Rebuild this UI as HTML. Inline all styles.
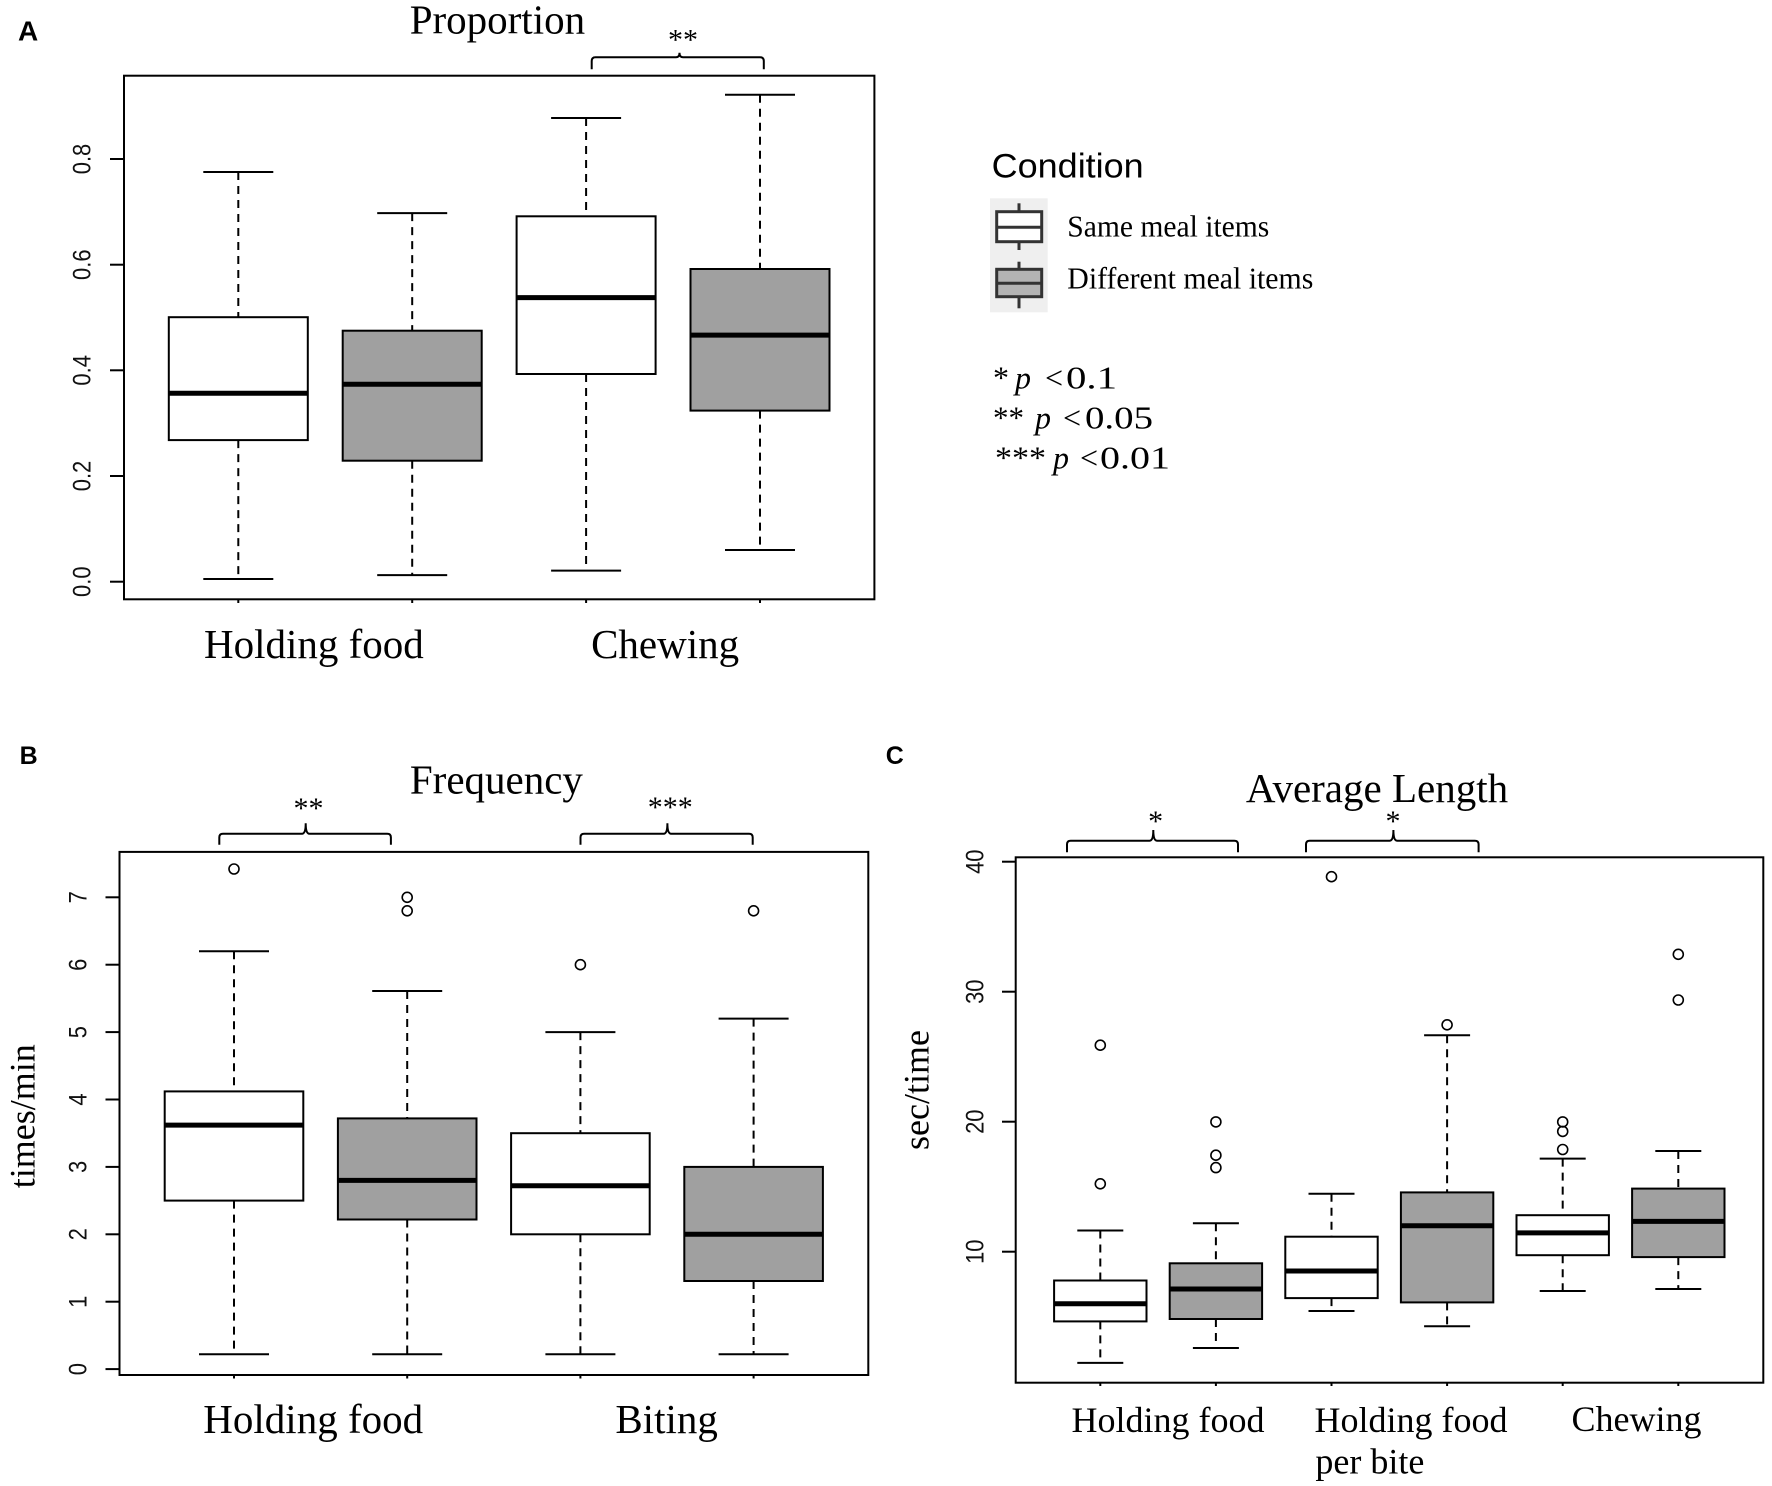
<!DOCTYPE html>
<html><head><meta charset="utf-8"><style>
html,body{margin:0;padding:0;background:#fff}
svg{display:block}
.fr{fill:none;stroke:#000;stroke-width:2}
.w{stroke:#000;stroke-width:2;stroke-dasharray:8 6}
.c{stroke:#000;stroke-width:2}
.bw{fill:#fff;stroke:#000;stroke-width:2}
.bg{fill:#a0a0a0;stroke:#000;stroke-width:2}
.m{stroke:#000;stroke-width:5}
.o{fill:none;stroke:#000;stroke-width:1.6}
.tk{stroke:#000;stroke-width:2}
.serif{font-family:"Liberation Serif","Times New Roman",serif;fill:#000}
.sans{font-family:"Liberation Sans",Arial,sans-serif;fill:#000}
.tl{font-family:"Liberation Sans",Arial,sans-serif;font-size:22px;fill:#111}
.br{fill:none;stroke:#000;stroke-width:2}
</style></head><body>
<svg width="1772" height="1486" viewBox="0 0 1772 1486" xmlns="http://www.w3.org/2000/svg">
<rect width="1772" height="1486" fill="#fff"/>

<!-- ================= PANEL A ================= -->
<text class="sans" x="18" y="40.7" font-size="28" font-weight="bold">A</text>
<text class="serif" x="497.4" y="33.5" font-size="41" text-anchor="middle">Proportion</text>
<!-- bracket -->
<path class="br" d="M591.7,69.3 L591.7,61 Q591.7,57.2 595.5,57.2 L676,57.2 Q679.5,57.2 679.5,52.7 Q679.5,57.2 683,57.2 L760,57.2 Q763.8,57.2 763.8,61 L763.8,69.3"/>
<text class="serif" x="683" y="49.5" font-size="30" text-anchor="middle">**</text>

<rect class="fr" x="124" y="75.7" width="750.4" height="523.6"/>
<!-- y ticks -->
<line class="tk" x1="110" y1="581.7" x2="124" y2="581.7"/>
<line class="tk" x1="110" y1="476" x2="124" y2="476"/>
<line class="tk" x1="110" y1="370.3" x2="124" y2="370.3"/>
<line class="tk" x1="110" y1="264.7" x2="124" y2="264.7"/>
<line class="tk" x1="110" y1="159" x2="124" y2="159"/>
<g class="tl" text-anchor="middle">
<text transform="translate(90.7,581.7) scale(1.15,1) rotate(-90)">0.0</text>
<text transform="translate(90.7,476) scale(1.15,1) rotate(-90)">0.2</text>
<text transform="translate(90.7,370.3) scale(1.15,1) rotate(-90)">0.4</text>
<text transform="translate(90.7,264.7) scale(1.15,1) rotate(-90)">0.6</text>
<text transform="translate(90.7,159) scale(1.15,1) rotate(-90)">0.8</text>
</g>
<!-- x ticks -->
<line class="tk" x1="238.3" y1="599.3" x2="238.3" y2="603"/>
<line class="tk" x1="412.2" y1="599.3" x2="412.2" y2="603"/>
<line class="tk" x1="586.1" y1="599.3" x2="586.1" y2="603"/>
<line class="tk" x1="760" y1="599.3" x2="760" y2="603"/>

<!-- Box A1 -->
<line class="w" x1="238.3" y1="172" x2="238.3" y2="317.2"/>
<line class="w" x1="238.3" y1="440.1" x2="238.3" y2="579"/>
<line class="c" x1="203.3" y1="172" x2="273.3" y2="172"/>
<line class="c" x1="203.3" y1="579" x2="273.3" y2="579"/>
<rect class="bw" x="168.8" y="317.2" width="139" height="122.9"/>
<line class="m" x1="168.8" y1="393.2" x2="307.8" y2="393.2"/>
<!-- Box A2 -->
<line class="w" x1="412.2" y1="213.1" x2="412.2" y2="330.7"/>
<line class="w" x1="412.2" y1="460.7" x2="412.2" y2="575.1"/>
<line class="c" x1="377.2" y1="213.1" x2="447.2" y2="213.1"/>
<line class="c" x1="377.2" y1="575.1" x2="447.2" y2="575.1"/>
<rect class="bg" x="342.7" y="330.7" width="139" height="130"/>
<line class="m" x1="342.7" y1="384.3" x2="481.7" y2="384.3"/>
<!-- Box A3 -->
<line class="w" x1="586.1" y1="118" x2="586.1" y2="216.3"/>
<line class="w" x1="586.1" y1="374" x2="586.1" y2="570.6"/>
<line class="c" x1="551.1" y1="118" x2="621.1" y2="118"/>
<line class="c" x1="551.1" y1="570.6" x2="621.1" y2="570.6"/>
<rect class="bw" x="516.6" y="216.3" width="139" height="157.7"/>
<line class="m" x1="516.6" y1="297.6" x2="655.6" y2="297.6"/>
<!-- Box A4 -->
<line class="w" x1="760" y1="94.7" x2="760" y2="269"/>
<line class="w" x1="760" y1="410.6" x2="760" y2="550"/>
<line class="c" x1="725" y1="94.7" x2="795" y2="94.7"/>
<line class="c" x1="725" y1="550" x2="795" y2="550"/>
<rect class="bg" x="690.5" y="269" width="139" height="141.6"/>
<line class="m" x1="690.5" y1="335.1" x2="829.5" y2="335.1"/>

<text class="serif" x="313.9" y="658" font-size="41" text-anchor="middle">Holding food</text>
<text class="serif" x="665.1" y="658" font-size="41" text-anchor="middle">Chewing</text>

<!-- ================= LEGEND ================= -->
<text class="sans" x="991.7" y="177.3" font-size="34" textLength="152" lengthAdjust="spacingAndGlyphs">Condition</text>
<rect x="990" y="198.3" width="57.7" height="114" fill="#efefef"/>
<line x1="1019" y1="203.3" x2="1019" y2="250" stroke="#333" stroke-width="3"/>
<rect x="996.7" y="211.7" width="45" height="30" fill="#fff" stroke="#333" stroke-width="3"/>
<line x1="996.7" y1="227.3" x2="1041.7" y2="227.3" stroke="#333" stroke-width="3"/>
<line x1="1019" y1="261.7" x2="1019" y2="308.3" stroke="#333" stroke-width="3"/>
<rect x="996.7" y="269.3" width="45" height="27.4" fill="#b3b3b3" stroke="#333" stroke-width="3"/>
<line x1="996.7" y1="283.3" x2="1041.7" y2="283.3" stroke="#333" stroke-width="3"/>
<text class="serif" x="1067.3" y="236.7" font-size="31" textLength="202" lengthAdjust="spacingAndGlyphs">Same meal items</text>
<text class="serif" x="1067.3" y="288.3" font-size="31" textLength="246" lengthAdjust="spacingAndGlyphs">Different meal items</text>

<g class="serif" font-size="32">
<text x="993" y="388.3">*</text>
<text x="1015" y="388.3" font-style="italic">p</text>
<text x="1045" y="388.3">&lt;</text>
<text x="1066" y="388.3" textLength="51" lengthAdjust="spacingAndGlyphs">0.1</text>

<text x="993" y="428.3" textLength="31" lengthAdjust="spacingAndGlyphs">**</text>
<text x="1035" y="428.3" font-style="italic">p</text>
<text x="1063" y="428.3">&lt;</text>
<text x="1085" y="428.3" textLength="68" lengthAdjust="spacingAndGlyphs">0.05</text>

<text x="995" y="468.3" textLength="51" lengthAdjust="spacingAndGlyphs">***</text>
<text x="1053" y="468.3" font-style="italic">p</text>
<text x="1080" y="468.3">&lt;</text>
<text x="1100" y="468.3" textLength="70" lengthAdjust="spacingAndGlyphs">0.01</text>
</g>

<!-- ================= PANEL B ================= -->
<text class="sans" x="19.6" y="764" font-size="25" font-weight="bold">B</text>
<text class="serif" x="496.4" y="793.3" font-size="41" text-anchor="middle">Frequency</text>
<path class="br" d="M219.3,844.8 L219.3,837.5 Q219.3,833.8 223,833.8 L302,833.8 Q305.7,833.8 305.7,823.3 Q305.7,833.8 309.4,833.8 L387.2,833.8 Q390.9,833.8 390.9,837.5 L390.9,844.8"/>
<text class="serif" x="308.5" y="818" font-size="30" text-anchor="middle">**</text>
<path class="br" d="M580.5,844.8 L580.5,837.5 Q580.5,833.8 584.2,833.8 L663.7,833.8 Q667.4,833.8 667.4,823.3 Q667.4,833.8 671.1,833.8 L749,833.8 Q752.7,833.8 752.7,837.5 L752.7,844.8"/>
<text class="serif" x="670.2" y="817" font-size="30" text-anchor="middle">***</text>

<rect class="fr" x="119.5" y="851.9" width="748.8" height="523.1"/>
<g>
<line class="tk" x1="105.5" y1="1369.1" x2="119.5" y2="1369.1"/>
<line class="tk" x1="105.5" y1="1301.7" x2="119.5" y2="1301.7"/>
<line class="tk" x1="105.5" y1="1234.3" x2="119.5" y2="1234.3"/>
<line class="tk" x1="105.5" y1="1166.9" x2="119.5" y2="1166.9"/>
<line class="tk" x1="105.5" y1="1099.5" x2="119.5" y2="1099.5"/>
<line class="tk" x1="105.5" y1="1032.1" x2="119.5" y2="1032.1"/>
<line class="tk" x1="105.5" y1="964.7" x2="119.5" y2="964.7"/>
<line class="tk" x1="105.5" y1="897.3" x2="119.5" y2="897.3"/>
</g>
<g class="tl" text-anchor="middle">
<text transform="translate(86.7,1369.1) scale(1.15,1) rotate(-90)">0</text>
<text transform="translate(86.7,1301.7) scale(1.15,1) rotate(-90)">1</text>
<text transform="translate(86.7,1234.3) scale(1.15,1) rotate(-90)">2</text>
<text transform="translate(86.7,1166.9) scale(1.15,1) rotate(-90)">3</text>
<text transform="translate(86.7,1099.5) scale(1.15,1) rotate(-90)">4</text>
<text transform="translate(86.7,1032.1) scale(1.15,1) rotate(-90)">5</text>
<text transform="translate(86.7,964.7) scale(1.15,1) rotate(-90)">6</text>
<text transform="translate(86.7,897.3) scale(1.15,1) rotate(-90)">7</text>
</g>
<text class="serif" font-size="36" text-anchor="middle" transform="translate(34.5,1116.2) rotate(-90)">times/min</text>
<line class="tk" x1="234" y1="1375" x2="234" y2="1378.5"/>
<line class="tk" x1="407.2" y1="1375" x2="407.2" y2="1378.5"/>
<line class="tk" x1="580.4" y1="1375" x2="580.4" y2="1378.5"/>
<line class="tk" x1="753.6" y1="1375" x2="753.6" y2="1378.5"/>

<!-- Box B1 -->
<line class="w" x1="234" y1="951.2" x2="234" y2="1091.4"/>
<line class="w" x1="234" y1="1200.6" x2="234" y2="1354.3"/>
<line class="c" x1="199" y1="951.2" x2="269" y2="951.2"/>
<line class="c" x1="199" y1="1354.3" x2="269" y2="1354.3"/>
<rect class="bw" x="164.7" y="1091.4" width="138.6" height="109.2"/>
<line class="m" x1="164.7" y1="1125.1" x2="303.3" y2="1125.1"/>
<circle class="o" cx="234" cy="869" r="5"/>
<!-- Box B2 -->
<line class="w" x1="407.2" y1="991" x2="407.2" y2="1118.4"/>
<line class="w" x1="407.2" y1="1219.5" x2="407.2" y2="1354.3"/>
<line class="c" x1="372.2" y1="991" x2="442.2" y2="991"/>
<line class="c" x1="372.2" y1="1354.3" x2="442.2" y2="1354.3"/>
<rect class="bg" x="337.9" y="1118.4" width="138.6" height="101.1"/>
<line class="m" x1="337.9" y1="1180.4" x2="476.5" y2="1180.4"/>
<circle class="o" cx="407.2" cy="897.3" r="5"/>
<circle class="o" cx="407.2" cy="910.8" r="5"/>
<!-- Box B3 -->
<line class="w" x1="580.4" y1="1032.1" x2="580.4" y2="1133.2"/>
<line class="w" x1="580.4" y1="1234.3" x2="580.4" y2="1354.3"/>
<line class="c" x1="545.4" y1="1032.1" x2="615.4" y2="1032.1"/>
<line class="c" x1="545.4" y1="1354.3" x2="615.4" y2="1354.3"/>
<rect class="bw" x="511.1" y="1133.2" width="138.6" height="101.1"/>
<line class="m" x1="511.1" y1="1185.8" x2="649.7" y2="1185.8"/>
<circle class="o" cx="580.4" cy="964.7" r="5"/>
<!-- Box B4 -->
<line class="w" x1="753.6" y1="1018.6" x2="753.6" y2="1166.9"/>
<line class="w" x1="753.6" y1="1281" x2="753.6" y2="1354.3"/>
<line class="c" x1="718.6" y1="1018.6" x2="788.6" y2="1018.6"/>
<line class="c" x1="718.6" y1="1354.3" x2="788.6" y2="1354.3"/>
<rect class="bg" x="684.3" y="1166.9" width="138.6" height="114.1"/>
<line class="m" x1="684.3" y1="1234.3" x2="822.9" y2="1234.3"/>
<circle class="o" cx="753.6" cy="910.8" r="5"/>

<text class="serif" x="313.2" y="1432.9" font-size="41" text-anchor="middle">Holding food</text>
<text class="serif" x="666.6" y="1432.9" font-size="41" text-anchor="middle">Biting</text>

<!-- ================= PANEL C ================= -->
<text class="sans" x="885.7" y="764" font-size="25" font-weight="bold">C</text>
<text class="serif" x="1377" y="801.9" font-size="41" text-anchor="middle">Average Length</text>
<path class="br" d="M1067,852.3 L1067,844.4 Q1067,840.7 1070.7,840.7 L1149.6,840.7 Q1153.3,840.7 1153.3,830 Q1153.3,840.7 1157,840.7 L1234.3,840.7 Q1238,840.7 1238,844.4 L1238,852.3"/>
<text class="serif" x="1155.6" y="831" font-size="30" text-anchor="middle">*</text>
<path class="br" d="M1306,852.3 L1306,844.4 Q1306,840.7 1309.7,840.7 L1389.7,840.7 Q1393.4,840.7 1393.4,830 Q1393.4,840.7 1397.1,840.7 L1474.9,840.7 Q1478.6,840.7 1478.6,844.4 L1478.6,852.3"/>
<text class="serif" x="1393" y="831" font-size="30" text-anchor="middle">*</text>

<rect class="fr" x="1015.7" y="857.3" width="747.6" height="525.4"/>
<line class="tk" x1="1002" y1="1251.7" x2="1015.7" y2="1251.7"/>
<line class="tk" x1="1002" y1="1121.7" x2="1015.7" y2="1121.7"/>
<line class="tk" x1="1002" y1="991.7" x2="1015.7" y2="991.7"/>
<line class="tk" x1="1002" y1="861.7" x2="1015.7" y2="861.7"/>
<g class="tl" text-anchor="middle">
<text transform="translate(983.3,1251.7) scale(1.15,1) rotate(-90)">10</text>
<text transform="translate(983.3,1121.7) scale(1.15,1) rotate(-90)">20</text>
<text transform="translate(983.3,991.7) scale(1.15,1) rotate(-90)">30</text>
<text transform="translate(983.3,861.7) scale(1.15,1) rotate(-90)">40</text>
</g>
<text class="serif" font-size="36" text-anchor="middle" transform="translate(928.5,1090) rotate(-90)">sec/time</text>
<line class="tk" x1="1100.3" y1="1382.7" x2="1100.3" y2="1386"/>
<line class="tk" x1="1215.9" y1="1382.7" x2="1215.9" y2="1386"/>
<line class="tk" x1="1331.5" y1="1382.7" x2="1331.5" y2="1386"/>
<line class="tk" x1="1447.1" y1="1382.7" x2="1447.1" y2="1386"/>
<line class="tk" x1="1562.7" y1="1382.7" x2="1562.7" y2="1386"/>
<line class="tk" x1="1678.3" y1="1382.7" x2="1678.3" y2="1386"/>

<!-- Box C1 -->
<line class="w" x1="1100.3" y1="1230.5" x2="1100.3" y2="1280.5"/>
<line class="w" x1="1100.3" y1="1321.4" x2="1100.3" y2="1362.9"/>
<line class="c" x1="1077.3" y1="1230.5" x2="1123.3" y2="1230.5"/>
<line class="c" x1="1077.3" y1="1362.9" x2="1123.3" y2="1362.9"/>
<rect class="bw" x="1054.1" y="1280.5" width="92.4" height="40.9"/>
<line class="m" x1="1054.1" y1="1303.8" x2="1146.5" y2="1303.8"/>
<circle class="o" cx="1100.3" cy="1045.2" r="5"/>
<circle class="o" cx="1100.3" cy="1183.8" r="5"/>
<!-- Box C2 -->
<line class="w" x1="1215.9" y1="1223.3" x2="1215.9" y2="1263.3"/>
<line class="w" x1="1215.9" y1="1319" x2="1215.9" y2="1348"/>
<line class="c" x1="1192.9" y1="1223.3" x2="1238.9" y2="1223.3"/>
<line class="c" x1="1192.9" y1="1348" x2="1238.9" y2="1348"/>
<rect class="bg" x="1169.7" y="1263.3" width="92.4" height="55.7"/>
<line class="m" x1="1169.7" y1="1289" x2="1262.1" y2="1289"/>
<circle class="o" cx="1215.9" cy="1121.9" r="5"/>
<circle class="o" cx="1215.9" cy="1155.2" r="5"/>
<circle class="o" cx="1215.9" cy="1167.6" r="5"/>
<!-- Box C3 -->
<line class="w" x1="1331.5" y1="1193.8" x2="1331.5" y2="1236.7"/>
<line class="w" x1="1331.5" y1="1298.1" x2="1331.5" y2="1311"/>
<line class="c" x1="1308.5" y1="1193.8" x2="1354.5" y2="1193.8"/>
<line class="c" x1="1308.5" y1="1311" x2="1354.5" y2="1311"/>
<rect class="bw" x="1285.3" y="1236.7" width="92.4" height="61.4"/>
<line class="m" x1="1285.3" y1="1271" x2="1377.7" y2="1271"/>
<circle class="o" cx="1331.5" cy="876.7" r="5"/>
<!-- Box C4 -->
<line class="w" x1="1447.1" y1="1035.2" x2="1447.1" y2="1192.4"/>
<line class="w" x1="1447.1" y1="1302.4" x2="1447.1" y2="1326.2"/>
<line class="c" x1="1424.1" y1="1035.2" x2="1470.1" y2="1035.2"/>
<line class="c" x1="1424.1" y1="1326.2" x2="1470.1" y2="1326.2"/>
<rect class="bg" x="1400.9" y="1192.4" width="92.4" height="110"/>
<line class="m" x1="1400.9" y1="1225.7" x2="1493.3" y2="1225.7"/>
<circle class="o" cx="1447.1" cy="1024.8" r="5"/>
<!-- Box C5 -->
<line class="w" x1="1562.7" y1="1158.6" x2="1562.7" y2="1215.2"/>
<line class="w" x1="1562.7" y1="1255.2" x2="1562.7" y2="1291"/>
<line class="c" x1="1539.7" y1="1158.6" x2="1585.7" y2="1158.6"/>
<line class="c" x1="1539.7" y1="1291" x2="1585.7" y2="1291"/>
<rect class="bw" x="1516.5" y="1215.2" width="92.4" height="40"/>
<line class="m" x1="1516.5" y1="1232.9" x2="1608.9" y2="1232.9"/>
<circle class="o" cx="1562.7" cy="1121.9" r="5"/>
<circle class="o" cx="1562.7" cy="1131.4" r="5"/>
<circle class="o" cx="1562.7" cy="1149.5" r="5"/>
<!-- Box C6 -->
<line class="w" x1="1678.3" y1="1151" x2="1678.3" y2="1188.6"/>
<line class="w" x1="1678.3" y1="1257.1" x2="1678.3" y2="1289"/>
<line class="c" x1="1655.3" y1="1151" x2="1701.3" y2="1151"/>
<line class="c" x1="1655.3" y1="1289" x2="1701.3" y2="1289"/>
<rect class="bg" x="1632.1" y="1188.6" width="92.4" height="68.5"/>
<line class="m" x1="1632.1" y1="1221.4" x2="1724.5" y2="1221.4"/>
<circle class="o" cx="1678.3" cy="954.3" r="5"/>
<circle class="o" cx="1678.3" cy="1000" r="5"/>

<text class="serif" x="1168" y="1432" font-size="36" text-anchor="middle">Holding food</text>
<text class="serif" x="1411" y="1432" font-size="36" text-anchor="middle">Holding food</text>
<text class="serif" x="1315.4" y="1473.3" font-size="36">per bite</text>
<text class="serif" x="1636.5" y="1431" font-size="36" text-anchor="middle">Chewing</text>
</svg>
</body></html>
